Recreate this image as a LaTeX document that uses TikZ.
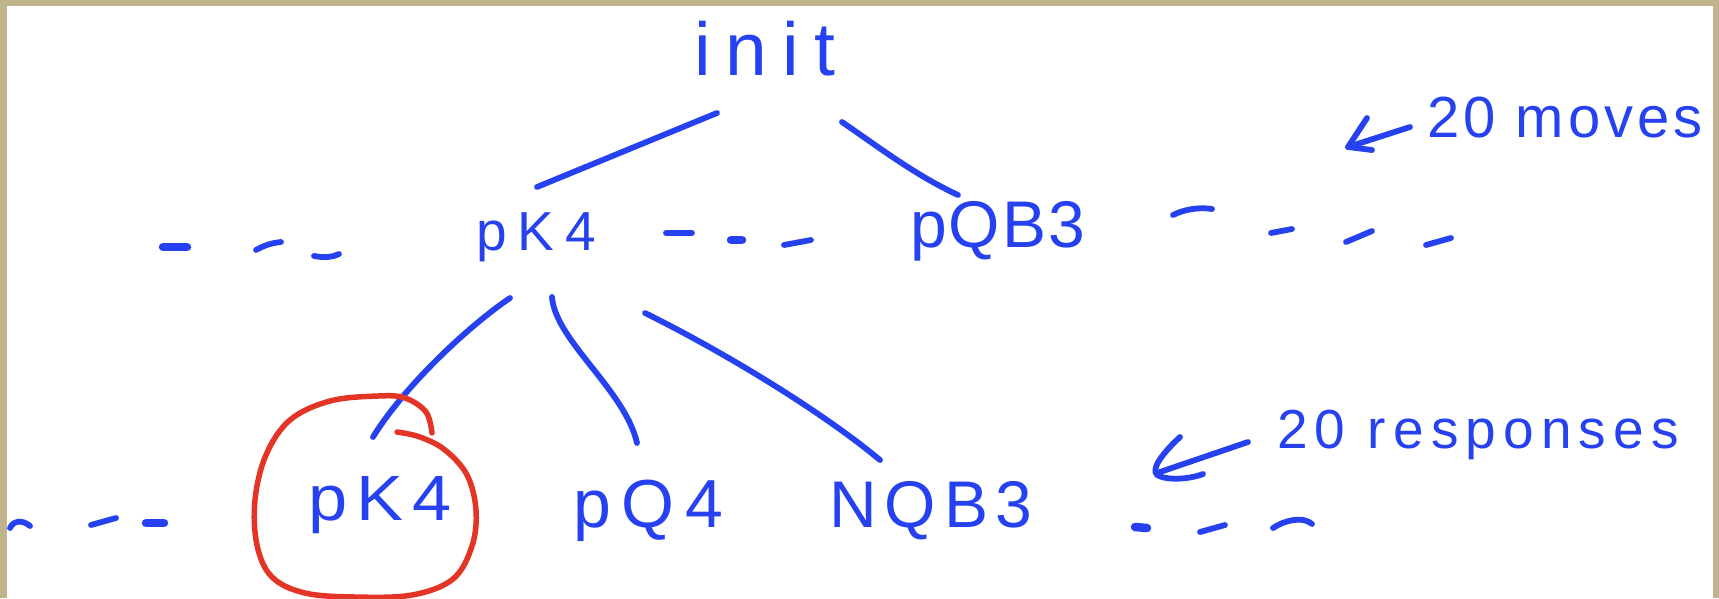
\documentclass[tikz,border=0pt]{standalone}
\usepackage{fontspec}
\setmainfont{Liberation Sans}
\definecolor{ink}{RGB}{38,66,240}
\definecolor{redink}{RGB}{228,52,38}
\definecolor{framecol}{RGB}{192,180,143}
\newcommand{\handsize}[2]{\fontsize{#1}{#1}\selectfont\addfontfeature{LetterSpace=#2}}
\begin{document}
\begin{tikzpicture}[x=1pt,y=-1pt,
  pen/.style={draw=ink,line width=5.8pt,line cap=round,line join=round},
  redpen/.style={draw=redink,line width=5.5pt,line cap=round,line join=round},
  lbl/.style={text=ink,inner sep=0pt,anchor=base west},
  thickmark/.style={pen,line width=8.5pt}]
\useasboundingbox (0,0) rectangle (1719,598);
\fill[framecol] (0,0) rectangle (1719,598);
\fill[white] (7,6) rectangle (1713,598);

% labels
\node[lbl,font=\handsize{75}{20}] (init) at (694,75) {init};
\node[lbl,font=\handsize{55}{20}] (pk1) at (476,250) {pK4};
\node[lbl,font=\handsize{66}{3}] (pqb3) at (910,247) {pQB3};
\node[lbl,font=\handsize{64}{13},xscale=1.1] (pk2) at (308,520) {pK4};
\node[lbl,font=\handsize{68}{16}] (pq4) at (573,527) {pQ4};
\node[lbl,font=\handsize{66}{12}] (nqb3) at (829,527) {NQB3};
\node[lbl,font=\handsize{58}{7}] (moves) at (1427,137) {20 moves};
\node[lbl,font=\handsize{55}{13}] (resp) at (1277,448) {20 responses};

% connector end points
\coordinate (init-a) at (717,113);
\coordinate (init-b) at (842,122);
\coordinate (pk1-top) at (537,187);
\coordinate (pqb3-top) at (958,195);
\coordinate (pk1-a) at (510,298);
\coordinate (pk1-b) at (552,297);
\coordinate (pk1-c) at (645,313);
\coordinate (pk2-top) at (373,437);
\coordinate (pq4-top) at (637,443);
\coordinate (nqb3-top) at (880,460);

% tree edges
\draw[pen] (init-a) -- (pk1-top);
\draw[pen] (init-b) .. controls (880,148) and (915,175) .. (pqb3-top);
\draw[pen] (pk1-a) .. controls (470,325) and (405,385) .. (pk2-top);
\draw[pen] (pk1-b) .. controls (555,340) and (625,390) .. (pq4-top);
\draw[pen] (pk1-c) .. controls (720,350) and (820,410) .. (nqb3-top);

% annotation arrows
\coordinate (mv-tail) at (1410,127);
\coordinate (mv-tip) at (1348,147);
\draw[pen] (mv-tail) -- (mv-tip);
\draw[pen] (1367,118) -- (mv-tip) -- (1372,150);
\coordinate (rs-tail) at (1248,442);
\coordinate (rs-tip) at (1160,472);
\draw[pen] (rs-tail) -- (rs-tip);
\draw[pen] (1180,437) .. controls (1166,450) and (1150,468) .. (1157,475) .. controls (1168,481) and (1190,479) .. (1203,474);

% red circle
\draw[redpen] plot[smooth,tension=0.6] coordinates {(432,433) (426,412) (405,398) (378,396) (330,401) (290,420) (266,455) (255,500) (257,545) (272,577) (305,593) (355,597) (412,595) (453,579) (472,546) (476,510) (467,475) (445,450) (420,437) (397,432)};

% dashes, row 1
\draw[thickmark] (163,247) -- (187,247);
\draw[pen] (256,250) .. controls (265,245) and (272,243) .. (281,242);
\draw[pen] (314,256) .. controls (325,258) and (333,257) .. (339,254);
\draw[pen] (666,233) -- (692,233);
\draw[thickmark] (731,240) -- (742,240);
\draw[pen] (784,245) -- (811,240);
\draw[pen] (1173,215) .. controls (1185,209) and (1200,207) .. (1212,209);
\draw[pen] (1271,233) -- (1292,229);
\draw[pen] (1346,242) -- (1372,231);
\draw[pen] (1426,245) -- (1451,238);
% dashes, row 2
\draw[pen] (10,528) .. controls (13,521) and (22,519) .. (30,526);
\draw[pen] (91,525) -- (116,518);
\draw[thickmark] (146,523) -- (164,523);
\draw[thickmark] (1135,527) -- (1147,528);
\draw[pen] (1200,532) -- (1225,525);
\draw[pen] (1273,528) .. controls (1285,520) and (1303,516) .. (1312,524);
\end{tikzpicture}
\end{document}
